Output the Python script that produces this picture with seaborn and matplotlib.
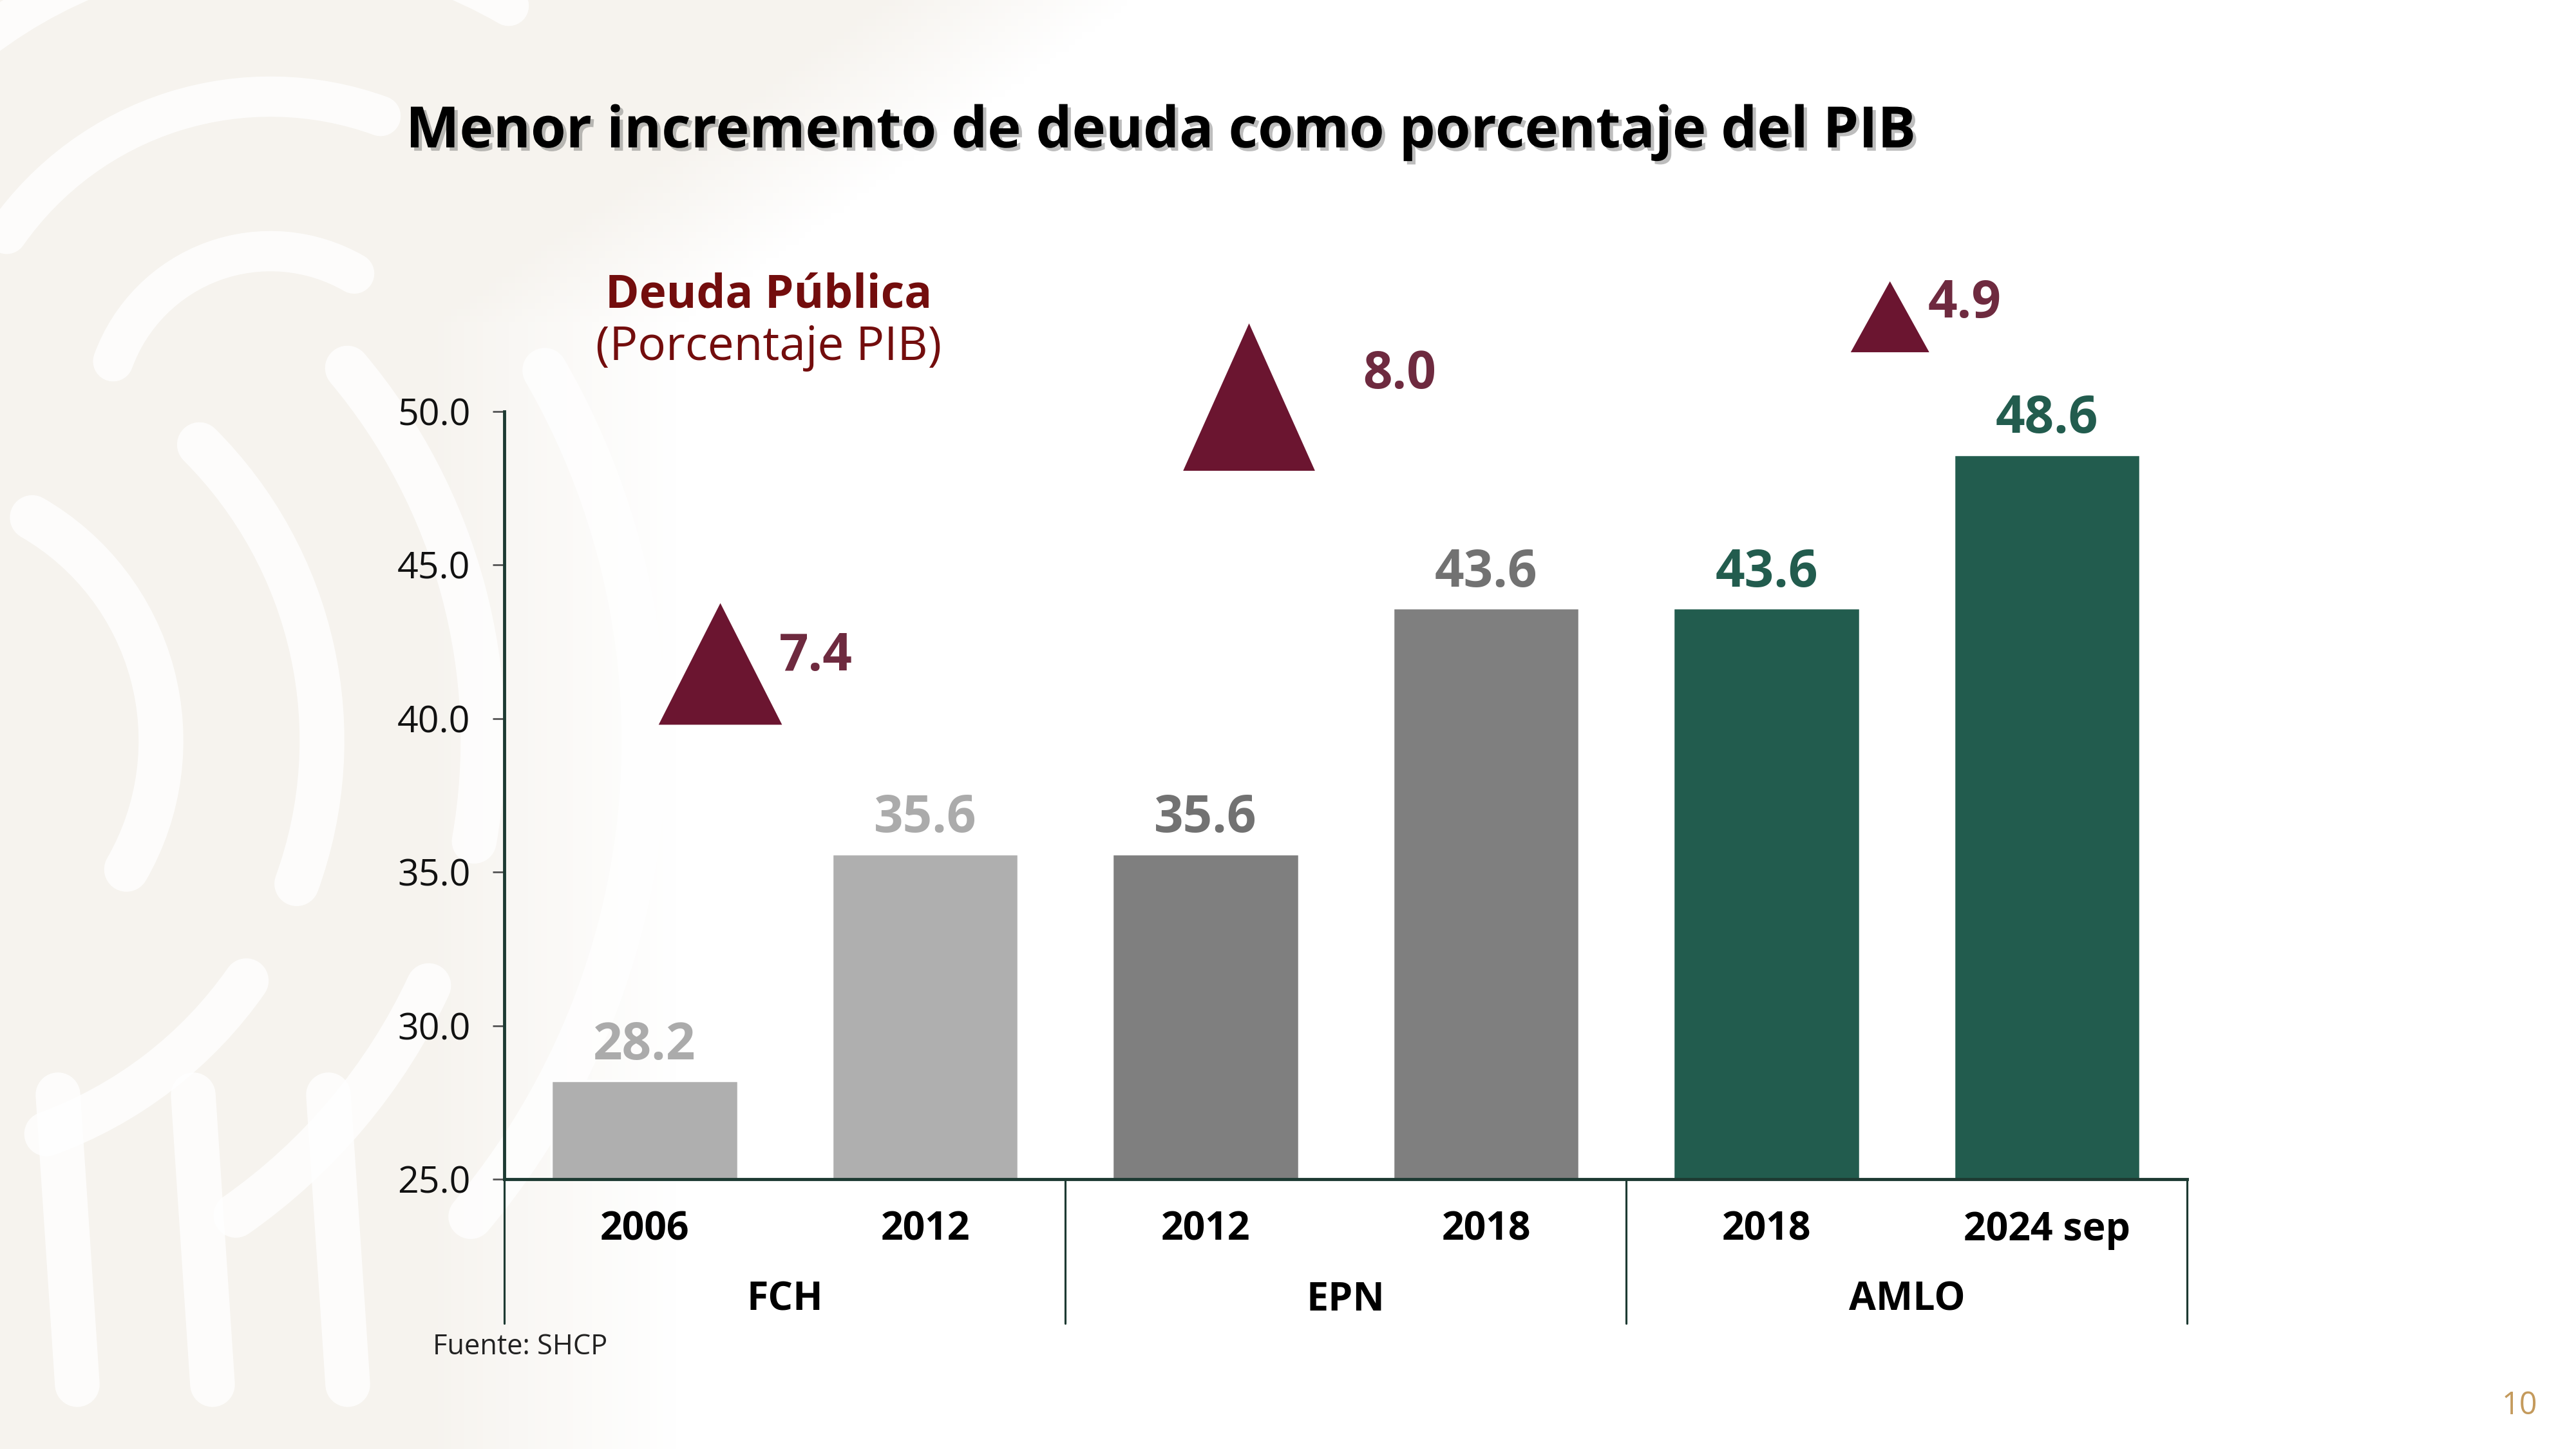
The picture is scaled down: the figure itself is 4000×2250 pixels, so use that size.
import numpy as np
import pandas as pd
import matplotlib.pyplot as plt
import matplotlib.patheffects as pe
from matplotlib.patches import Polygon, Arc
import seaborn as sns

# datos
periodos = ["FCH 2006", "FCH 2012", "EPN 2012", "EPN 2018", "AMLO 2018", "AMLO 2024"]
years = ["2006", "2012", "2012", "2018", "2018", "2024 sep"]
deuda = [28.2, 35.6, 35.6, 43.6, 43.6, 48.6]
group_names = ["FCH", "EPN", "AMLO"]
incrementos = [7.4, 8.0, 4.9]

bar_colors = ["#afafaf", "#afafaf", "#7f7f7f", "#7f7f7f", "#225c4e", "#225c4e"]
label_colors = ["#ababab", "#ababab", "#727272", "#727272", "#225c4e", "#225c4e"]
maroon = "#6b1530"
maroon_txt = "#6e2a3f"

# triangle layout (left x, base y, width, height in data units) and label anchor
tri_left = [0.05, 1.92, 4.30]
tri_base = [39.8, 48.07, 51.93]
tri_w = [0.44, 0.47, 0.28]
tri_h = [3.96, 4.8, 2.31]
tri_lbl = [(0.48, 42.0), (2.56, 51.2), (4.575, 53.5)]

df = pd.DataFrame({"periodo": periodos, "deuda": deuda})

sns.set_style("white")
plt.rcParams["font.family"] = ["Open Sans", "DejaVu Sans"]

fig = plt.figure(figsize=(16, 9), dpi=250)
fig.patch.set_facecolor("white")

# background ornament
bg = fig.add_axes([0, 0, 1, 1], zorder=-10)
bg.set_xlim(0, 4000)
bg.set_ylim(2250, 0)
bg.axis("off")
yy, xx = np.mgrid[0:2250:10, 0:4000:10]
edge = 1050 + 700 * np.clip((500 - yy) / 500, 0, 1)
alpha = np.clip((edge - xx) / 400, 0, 1)
img = np.zeros(xx.shape + (4,))
img[..., 0] = 0.965
img[..., 1] = 0.953
img[..., 2] = 0.937
img[..., 3] = alpha
bg.imshow(img, extent=[0, 4000, 2250, 0], aspect="auto")
for r, t1, t2 in [(400, -60, 30), (650, -45, 20), (650, 35, 70), (900, -40, 10),
                  (900, 25, 55), (1150, -30, 40)]:
    bg.add_patch(Arc((-150, 1150), 2 * r, 2 * r, theta1=t1, theta2=t2,
                     color="white", lw=20, capstyle="round", alpha=0.8))
for r, t1, t2 in [(260, 200, 300), (500, 215, 290), (740, 220, 300)]:
    bg.add_patch(Arc((420, 650), 2 * r, 2 * r, theta1=t1, theta2=t2,
                     color="white", lw=18, capstyle="round", alpha=0.8))
for x0 in [90, 300, 510]:
    bg.plot([x0, x0 + 30], [1700, 2150], color="white", lw=20, solid_capstyle="round", alpha=0.8)

ax = fig.add_axes([0.1958, 0.1862, 0.6533, 0.5298])
ax.set_facecolor("none")
sns.barplot(data=df, x="periodo", y="deuda", hue="periodo", palette=bar_colors,
            legend=False, width=0.665, ax=ax, saturation=1)
ax.set_ylim(25, 50)
ax.set_xlim(-0.5, 5.5)
ax.set_yticks(np.arange(25, 50.1, 5))
ax.set_yticklabels([f"{v:.1f}" for v in np.arange(25, 50.1, 5)], fontsize=16.5, color="#111111")
ax.set_xticks(range(6))
ax.set_xticklabels(years, fontsize=17.5, fontweight="bold", color="black")
ax.tick_params(axis="x", length=0, pad=14)
ax.tick_params(axis="y", length=5.2, width=0.8, color="#555555", pad=10, left=True)
ax.set_xlabel("")
ax.set_ylabel("")
for s in ["top", "right"]:
    ax.spines[s].set_visible(False)
for s in ["left", "bottom"]:
    ax.spines[s].set_color("#1d3a32")
    ax.spines[s].set_linewidth(1.4)

# separators and group names
trans = ax.get_xaxis_transform()
for xb in [-0.5, 1.5, 3.5, 5.5]:
    ax.plot([xb, xb], [0, -0.188], transform=trans, color="#1d3a32", lw=0.9, clip_on=False)
for i, g in enumerate(group_names):
    ax.text(2 * i + 0.5, -0.158, g, transform=trans, ha="center", va="center",
            fontsize=17.5, fontweight="bold", color="black")

# value labels
for i, v in enumerate(deuda):
    ax.text(i, v + 0.7, f"{v:.1f}", ha="center", va="baseline", fontsize=23,
            fontweight="bold", color=label_colors[i])

# increment triangles
for i, inc in enumerate(incrementos):
    x0, y0, w, h = tri_left[i], tri_base[i], tri_w[i], tri_h[i]
    ax.add_patch(Polygon([(x0, y0), (x0 + w, y0), (x0 + w / 2, y0 + h)], closed=True,
                         facecolor=maroon, edgecolor="none", clip_on=False))
    lx, ly = tri_lbl[i]
    ax.text(lx, ly, f"{inc:.1f}", ha="left", va="center", fontsize=23,
            fontweight="bold", color=maroon_txt, clip_on=False)

# texts
fig.text(0.1575, 0.9085, "Menor incremento de deuda como porcentaje del PIB", ha="left",
         va="center", fontsize=25.5, fontweight="bold", color="black",
         path_effects=[pe.SimplePatchShadow(offset=(1.5, -1.5), shadow_rgbFace="#444444", alpha=0.35),
                       pe.Normal()])
fig.text(0.2985, 0.796, "Deuda Pública", ha="center", va="center", fontsize=20.5,
         fontweight="bold", color="#730d0d")
fig.text(0.2985, 0.760, "(Porcentaje PIB)", ha="center", va="center", fontsize=21,
         color="#730d0d")
fig.text(0.168, 0.0702, "Fuente: SHCP", ha="left", va="center", fontsize=12.5, color="#222222")
fig.text(0.978, 0.0298, "10", ha="center", va="center", fontsize=14, color="#c49a5c")

fig.savefig("out.png", dpi=250)
